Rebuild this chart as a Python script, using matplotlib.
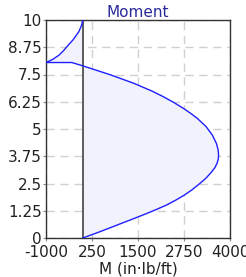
import matplotlib

matplotlib.use("Agg")
import matplotlib.pyplot as plt

plt.rcParams.update({
    "font.family": "DejaVu Sans",
    "font.size": 11,
    "axes.unicode_minus": False,
})

# Moment diagram (height in ft, moment in in·lb/ft)
height_lower = [0.00, 0.26, 0.52, 0.75, 0.90, 1.10, 1.28, 1.50, 1.74, 1.96, 2.20, 2.50,
                2.75, 3.03, 3.23, 3.43, 3.62, 3.80, 4.04, 4.34, 4.72, 5.11, 5.49, 5.72,
                5.95, 6.22, 6.48, 6.74, 7.10, 7.48, 7.89, 8.05]
moment_lower = [0, 420, 820, 1170, 1400, 1700, 1960, 2260, 2530, 2750, 2960, 3180,
                3350, 3500, 3590, 3650, 3680, 3690, 3678, 3630, 3520, 3350, 3110, 2930,
                2730, 2470, 2190, 1880, 1380, 760, 14, -300]
height_upper = [8.05, 8.20, 8.39, 8.60, 8.80, 9.10, 9.46, 9.75, 10.00]
moment_upper = [-1000, -810, -645, -520, -420, -260, -110, -35, 0]

x_ticks = [-1000, 250, 1500, 2750, 4000]
y_ticks = [0, 1.25, 2.5, 3.75, 5, 6.25, 7.5, 8.75, 10]
y_ticklabels = ["0", "1.25", "2.5", "3.75", "5", "6.25", "7.5", "8.75", "10"]

height = height_lower + height_upper
moment = moment_lower + moment_upper

fig = plt.figure(figsize=(2.46, 2.77), dpi=100)
ax = fig.add_axes([46 / 246, 39 / 277, 184 / 246, 218 / 277])

ax.fill_betweenx(height, moment, 0, color="#f2f2fd", linewidth=0, zorder=1)
ax.axvline(0, color="#333333", linewidth=1.1, zorder=3)
ax.plot(moment, height, color="#1f1fff", linewidth=1.0, zorder=4)

ax.set_xlim(-1000, 4000)
ax.set_ylim(0, 10)
ax.set_xticks(x_ticks)
ax.set_xticklabels([str(v) for v in x_ticks])
ax.set_yticks(y_ticks)
ax.set_yticklabels(y_ticklabels)

ax.grid(True, color="#d0d0d0", linestyle=(0, (6, 4)), linewidth=1.0, zorder=0)
ax.set_axisbelow(True)
ax.tick_params(length=2, width=0.8, color="#888888", labelsize=11,
               labelcolor="#222222")
ax.tick_params(axis="y", pad=1)
ax.tick_params(axis="x", pad=3)
for s in ax.spines.values():
    s.set_color("#333333")
    s.set_linewidth(1.0)

ax.set_title("Moment", color="#2a2a9a", fontsize=11, pad=2)
ax.set_xlabel("M (in·lb/ft)", fontsize=11, color="#222222", labelpad=1)

fig.savefig("out.png", dpi=100)
